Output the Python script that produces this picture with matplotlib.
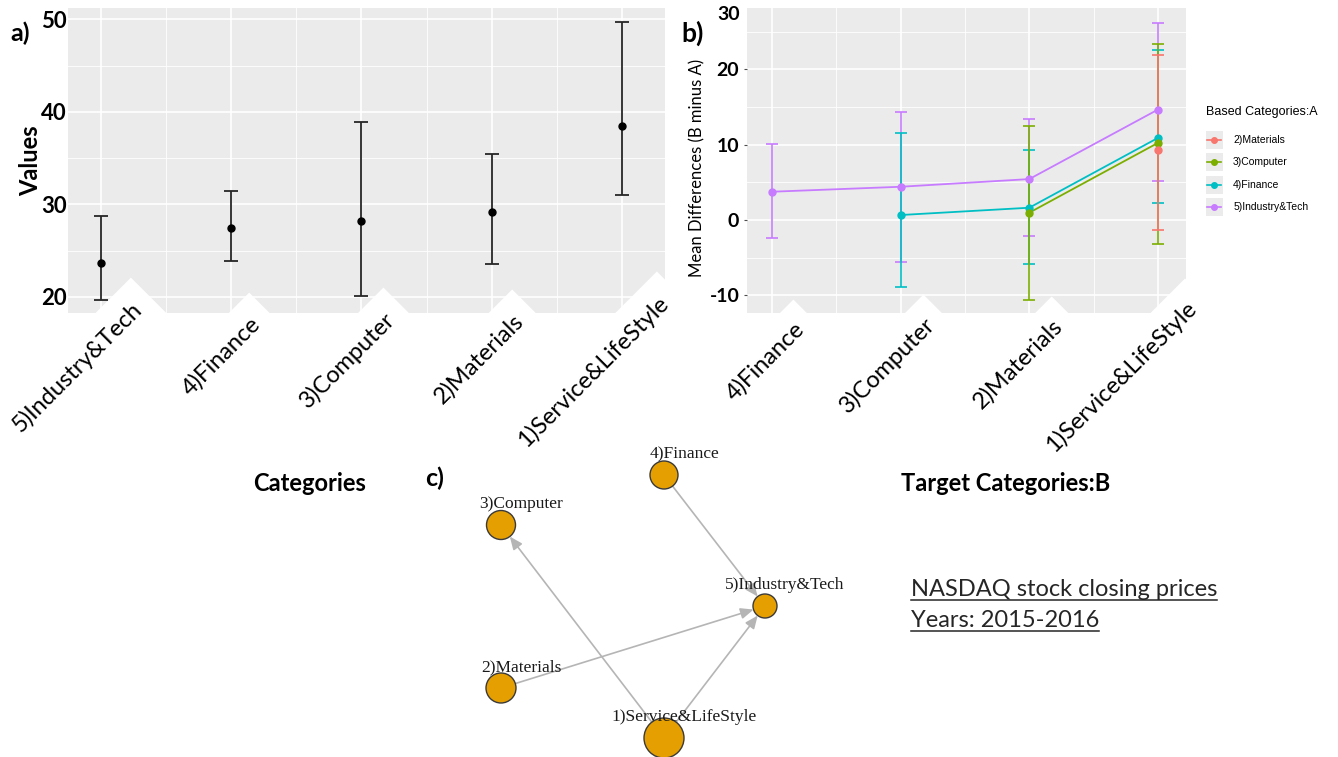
import numpy as np
import matplotlib
matplotlib.use('Agg')
import matplotlib.pyplot as plt
import matplotlib.transforms as mtransforms
from matplotlib.patches import Circle, FancyArrowPatch, Rectangle
from matplotlib.lines import Line2D
from matplotlib.legend_handler import HandlerBase
from matplotlib.textpath import TextPath
from matplotlib.font_manager import FontProperties

plt.rcParams['font.family'] = ['Lato', 'DejaVu Sans']
plt.rcParams['axes.unicode_minus'] = False

# ---- panel a: values per category (mean with interval)
cats_a = ['5)Industry&Tech', '4)Finance', '3)Computer', '2)Materials', '1)Service&LifeStyle']
mean_a = [23.7, 27.5, 28.2, 29.2, 38.5]
low_a = [19.7, 23.9, 20.1, 23.6, 31.0]
high_a = [28.7, 31.5, 38.9, 35.4, 49.7]

# ---- panel b: mean differences (B minus A), target categories B
cats_b = ['4)Finance', '3)Computer', '2)Materials', '1)Service&LifeStyle']
groups_b = ['2)Materials', '3)Computer', '4)Finance', '5)Industry&Tech']
nan = np.nan
materials_mean = [nan, nan, nan, 9.27]
materials_low = [nan, nan, nan, -1.32]
materials_high = [nan, nan, nan, 21.9]
computer_mean = [nan, nan, 0.97, 10.24]
computer_low = [nan, nan, -10.55, -3.18]
computer_high = [nan, nan, 12.45, 23.4]
finance_mean = [nan, 0.66, 1.63, 10.9]
finance_low = [nan, -8.83, -5.79, 2.3]
finance_high = [nan, 11.48, 9.27, 22.6]
industry_mean = [3.75, 4.41, 5.43, 14.66]
industry_low = [-2.38, -5.52, -2.16, 5.2]
industry_high = [10.07, 14.3, 13.38, 26.1]
group_colors = ['#F8766D', '#7CAE00', '#00BFC4', '#C77CFF']

# ---- panel c: network (layout in picture pixels)
node_names = ['1)Service&LifeStyle', '2)Materials', '3)Computer', '4)Finance', '5)Industry&Tech']
node_x = [664, 501, 501, 664, 765]
node_y = [738, 688, 525, 475, 606]
node_r = [20, 15, 14.5, 14, 12]
edge_from = ['1)Service&LifeStyle', '2)Materials', '1)Service&LifeStyle', '4)Finance']
edge_to = ['3)Computer', '5)Industry&Tech', '5)Industry&Tech', '5)Industry&Tech']

W, H = 1338, 757
fig = plt.figure(figsize=(W / 100, H / 100), dpi=100)


def px_axes(x0, y0, x1, y1):
    return fig.add_axes([x0 / W, 1 - y1 / H, (x1 - x0) / W, (y1 - y0) / H])


def gg_style(ax):
    ax.set_facecolor('#EBEBEB')
    for s in ax.spines.values():
        s.set_visible(False)
    ax.set_axisbelow(True)
    ax.grid(which='major', color='white', lw=1.2)
    ax.grid(which='minor', color='white', lw=0.6)
    ax.tick_params(which='minor', length=0)


def rotated_labels(ax, labels, dx0, kx, dy0, pad, size=17):
    ax.set_xticklabels(labels, rotation=45, ha='right', va='top', rotation_mode='anchor',
                       fontsize=size, bbox=dict(facecolor='white', edgecolor='none', pad=pad))
    ax.tick_params(axis='x', length=0, pad=0)
    fp = FontProperties(family='Lato', size=18)
    for t, s in zip(ax.xaxis.get_majorticklabels(), labels):
        w = TextPath((0, 0), s, prop=fp).get_extents().width * 100 / 72 - 112
        off = mtransforms.ScaledTranslation((dx0 + kx * w) / 100, (dy0 + 0.2 * w) / 100,
                                            fig.dpi_scale_trans)
        t.set_transform(t.get_transform() + off)


# ================= panel a
ax_a = px_axes(68, 8, 665, 313)
gg_style(ax_a)
xa = np.arange(1, len(cats_a) + 1)
m = np.array(mean_a)
ax_a.errorbar(xa, m, yerr=[m - np.array(low_a), np.array(high_a) - m], fmt='none',
              ecolor='#262626', elinewidth=1.3, capsize=5, capthick=1.3, zorder=2)
ax_a.plot(xa, m, 'o', color='black', ms=5, zorder=3)
ax_a.set_xlim(0.747, 5.33)
ax_a.set_ylim(18.27, 51.22)
ax_a.set_yticks([20, 30, 40, 50])
ax_a.set_yticks([25, 35, 45], minor=True)
ax_a.set_xticks(xa)
ax_a.set_xticks(xa[:-1] + 0.5, minor=True)
ax_a.tick_params(axis='y', length=0, pad=1, labelsize=16)
for t in ax_a.get_yticklabels():
    t.set_fontweight('bold')
rotated_labels(ax_a, cats_a, 19, 0.16, 1, 10.5)
ax_a.set_ylabel('Values', fontsize=17, fontweight='bold')
ax_a.yaxis.set_label_coords(-0.043, 0.5)
ax_a.set_xlabel('Categories', fontsize=17, fontweight='bold')
ax_a.xaxis.set_label_coords(0.404, -0.52)

# ================= panel b
ax_b = px_axes(747, 8, 1186, 313)
gg_style(ax_b)
xb = np.arange(1, len(cats_b) + 1)
means = [materials_mean, computer_mean, finance_mean, industry_mean]
lows = [materials_low, computer_low, finance_low, industry_low]
highs = [materials_high, computer_high, finance_high, industry_high]
for i in [3, 2, 1, 0]:
    mu = np.array(means[i])
    ok = ~np.isnan(mu)
    lo = np.array(lows[i])[ok]
    hi = np.array(highs[i])[ok]
    c = group_colors[i]
    ax_b.errorbar(xb[ok], mu[ok], yerr=[mu[ok] - lo, hi - mu[ok]], fmt='none', ecolor=c,
                  elinewidth=1.2, capsize=4.5, capthick=1.2, zorder=2)
    ax_b.plot(xb[ok], mu[ok], '-', color=c, lw=1.3, zorder=3)
    ax_b.plot(xb[ok], mu[ok], 'o', color=c, ms=5, zorder=4)
ax_b.set_xlim(0.808, 4.217)
ax_b.set_ylim(-12.34, 28.13)
ax_b.set_yticks([-10, 0, 10, 20])
ax_b.set_yticks([-5, 5, 15, 25], minor=True)
ax_b.set_xticks(xb)
ax_b.set_xticks(xb[:-1] + 0.5, minor=True)
ax_b.tick_params(axis='y', length=2.5, width=0.8, color='#4D4D4D', pad=3, labelsize=14)
for t in ax_b.get_yticklabels():
    t.set_fontweight('bold')
ax_b.annotate('30', xy=(0, 1), xycoords='axes fraction', xytext=(-5, -5),
              textcoords='offset points', ha='right', va='center', fontsize=14, fontweight='bold')
rotated_labels(ax_b, cats_b, 22, 0.05, -4, 9.5)
ax_b.set_ylabel('Mean Differences (B minus A)', fontsize=12)
ax_b.yaxis.set_label_coords(-0.095, 0.475)
ax_b.set_xlabel('Target Categories:B', fontsize=17, fontweight='bold')
ax_b.xaxis.set_label_coords(0.59, -0.52)


class KeyHandler(HandlerBase):
    def create_artists(self, legend, orig_handle, xdescent, ydescent, width, height, fontsize, trans):
        c = orig_handle.get_color()
        bg = Rectangle((-xdescent, -ydescent), width, height, facecolor='#EBEBEB',
                       edgecolor='none', transform=trans)
        y = height / 2 - ydescent
        ln = Line2D([-xdescent + 1, width - xdescent - 1], [y, y], color=c, lw=1.2, transform=trans)
        mk = Line2D([width / 2 - xdescent], [y], marker='o', ms=4, color=c, transform=trans)
        return [bg, ln, mk]


handles = [Line2D([], [], color=c) for c in group_colors]
leg = fig.legend(handles, groups_b, loc='upper left', bbox_to_anchor=(1206 / W, 1 - 106 / H),
                 frameon=False, title='Based Categories:A', alignment='left',
                 handler_map={Line2D: KeyHandler()}, handlelength=1.6, handleheight=2.3,
                 labelspacing=0.42, handletextpad=1.0, borderpad=0, borderaxespad=0,
                 prop={'family': 'Liberation Sans', 'size': 7.5})
leg.get_title().set_fontfamily('Liberation Sans')
leg.get_title().set_fontsize(9)
leg._legend_box.sep = 9

# ================= panel c (network) and notes
ax_c = fig.add_axes([0, 0, 1, 1])
ax_c.set_xlim(0, W)
ax_c.set_ylim(H, 0)
ax_c.axis('off')
pos = {n: (x, y, r) for n, x, y, r in zip(node_names, node_x, node_y, node_r)}
for a, b in zip(edge_from, edge_to):
    xa0, ya0, ra = pos[a]
    xb0, yb0, rb = pos[b]
    u = np.array([xb0 - xa0, yb0 - ya0], dtype=float)
    u /= np.hypot(*u)
    p0 = (xa0 + ra * u[0], ya0 + ra * u[1])
    p1 = (xb0 - rb * u[0], yb0 - rb * u[1])
    ax_c.add_patch(FancyArrowPatch(p0, p1, arrowstyle='-|>,head_length=0.7,head_width=0.3',
                                   mutation_scale=11, color='#B5B5B5', lw=1.2,
                                   shrinkA=0, shrinkB=0, zorder=1))
for n in node_names:
    x, y, r = pos[n]
    ax_c.add_patch(Circle((x, y), r, facecolor='#E69F00', edgecolor='#3A3A3A', lw=1.0, zorder=2))
    ax_c.annotate(n, (x, y), xytext=(20, 21), textcoords='offset pixels', ha='center',
                  va='center', fontsize=12.5, family='Liberation Serif', color='#1A1A1A', zorder=3)

fig.text(20 / W, 1 - 33 / H, 'a)', fontsize=18, fontweight='bold', ha='center', va='center')
fig.text(693 / W, 1 - 33 / H, 'b)', fontsize=19, fontweight='bold', ha='center', va='center')
fig.text(435 / W, 1 - 478 / H, 'c)', fontsize=18, fontweight='bold', ha='center', va='center')

notes = ['NASDAQ stock closing prices', 'Years: 2015-2016']
note_y = [596, 627]
note_texts = [ax_c.text(911, y, s, fontsize=17, color='#262626', ha='left', va='baseline')
              for s, y in zip(notes, note_y)]
fig.canvas.draw()
for t, y in zip(note_texts, note_y):
    w = t.get_window_extent().width
    ax_c.plot([911, 911 + w], [y + 4, y + 4], color='#262626', lw=1.1)

fig.savefig('out.png', dpi=100)
